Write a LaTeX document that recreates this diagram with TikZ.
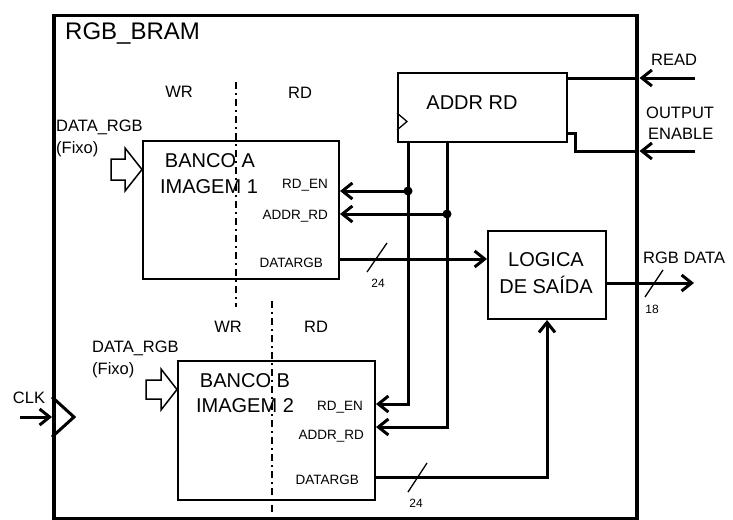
\documentclass[tikz,border=0pt]{standalone}
\usepackage{fontspec}
\setmainfont{Liberation Sans}
\usetikzlibrary{arrows.meta}
\begin{document}
\begin{tikzpicture}[x=1pt,y=-1pt,
  blk/.style={draw,line width=2pt,inner sep=0pt,anchor=north west},
  sig/.style={line width=3pt},
  tipd/.style={-{Straight Barb[length=10pt,width=16pt,line width=3pt]}},
  sl/.style={line width=1.3pt},
  dashdot/.style={line width=1.5pt,dash pattern=on 7pt off 4pt on 2pt off 4pt},
  hol/.style={line width=1.5pt,fill=white},
  big/.style={font=\fontsize{20}{20}\selectfont},
  med/.style={font=\fontsize{16.5}{16.5}\selectfont},
  sma/.style={font=\fontsize{13.5}{13.5}\selectfont},
  tin/.style={font=\fontsize{12}{12}\selectfont},
  lab/.style={inner sep=0pt}]
\useasboundingbox (0,0) rectangle (733,519);
\fill[white] (0,0) rectangle (733,519);

% outer box
\node[draw,line width=3.5pt,inner sep=0pt,anchor=north west,minimum width=583pt,minimum height=503pt] (outer) at (52,14) {};
\node[lab,anchor=west,font=\fontsize{24}{24}\selectfont] (title) at (65,34) {RGB\_BRAM};

% blocks
\node[blk,minimum width=196pt,minimum height=138pt] (bankA) at (142,140) {};
\node[blk,minimum width=197pt,minimum height=139pt] (bankB) at (177,360) {};
\node[blk,minimum width=169pt,minimum height=69pt] (addr) at (397,72) {};
\node[blk,minimum width=118pt,minimum height=88pt] (logic) at (487,230) {};

% dash-dot separators
\coordinate (sepA1) at (236,82);
\coordinate (sepA2) at (236,307);
\coordinate (sepB1) at (272,301);
\coordinate (sepB2) at (272,515);
\draw[dashdot] (sepA1) -- (sepA2);
\draw[dashdot] (sepB1) -- (sepB2);

% block texts
\node[lab,big] (tA1) at (210,161) {BANCO A};
\node[lab,big] (tA2) at (209,187) {IMAGEM 1};
\node[lab,big] (tB1) at (245,381) {BANCO B};
\node[lab,big] (tB2) at (245,406) {IMAGEM 2};
\node[lab,big] (tAddr) at (472,103) {ADDR RD};
\node[lab,big] (tL1) at (546,259.5) {LOGICA};
\node[lab,big] (tL2) at (546,285) {DE SAÍDA};

\node[lab,sma,anchor=east] (aEn) at (328,185) {RD\_EN};
\node[lab,sma,anchor=east] (aAd) at (328,216) {ADDR\_RD};
\node[lab,sma,anchor=east] (aDa) at (323,263) {DATARGB};
\node[lab,sma,anchor=east] (bEn) at (363,407) {RD\_EN};
\node[lab,sma,anchor=east] (bAd) at (364,436) {ADDR\_RD};
\node[lab,sma,anchor=east] (bDa) at (359,480) {DATARGB};

\node[lab,med] (wrA) at (179,92) {WR};
\node[lab,med] (rdA) at (300,93) {RD};
\node[lab,med] (wrB) at (228,327) {WR};
\node[lab,med] (rdB) at (316,327) {RD};

\node[lab,med,anchor=west] (dA1) at (56,127.5) {DATA\_RGB};
\node[lab,med,anchor=west] (dA2) at (56,149) {(Fixo)};
\node[lab,med,anchor=west] (dB1) at (92,348) {DATA\_RGB};
\node[lab,med,anchor=west] (dB2) at (92,370) {(Fixo)};

% hollow input arrows
\draw[hol,line join=miter] (111,159) -- (125,159) -- (125,148) -- (bankA.west |- 0,169.5) -- (125,191) -- (125,180) -- (111,180) -- cycle;
\draw[hol,line join=miter] (146,380) -- (161,380) -- (161,369) -- (bankB.west |- 0,389.5) -- (161,410) -- (161,399) -- (146,399) -- cycle;

% ADDR RD clock
\coordinate (ck1) at (397,113);
\coordinate (ck2) at (407,121.5);
\coordinate (ck3) at (397,130);
\draw[line width=1.3pt] (ck1) -- (ck2) -- (ck3);

% external inputs
\node[lab,med] (read) at (674,60) {READ};
\node[lab,med,anchor=west] (oe1) at (646,113) {OUTPUT};
\node[lab,med,anchor=west] (oe2) at (648,134) {ENABLE};
\coordinate (rdIn) at (695,78);
\coordinate (rdTip) at (outer.east |- rdIn);
\coordinate (oeIn) at (695,151);
\coordinate (oeTip) at (outer.east |- oeIn);
\draw[sig] (addr.east |- rdIn) -- (rdTip);
\draw[sig,tipd] (rdIn) -- ([xshift=1pt]rdTip);
\draw[sig] (addr.east |- 0,133) -- (575,133) |- (oeTip);
\draw[sig,tipd] (oeIn) -- ([xshift=1pt]oeTip);

% address/enable buses
\coordinate (d1) at (408,191);
\coordinate (d2) at (447,214);
\draw[sig,tipd,line join=miter] (d1 |- addr.south) |- (bankB.east |- 0,404);
\draw[sig,tipd,line join=miter] (d2 |- addr.south) |- (bankB.east |- 0,427);
\draw[sig,tipd] (d1) -- (bankA.east |- d1);
\draw[sig,tipd] (d2) -- (bankA.east |- d2);
\fill (d1) circle (4.5);
\fill (d2) circle (4.5);

% data buses
\coordinate (daA) at (bankA.east |- 0,259);
\draw[sig,tipd] (daA) -- (logic.west |- daA);
\draw[sl] (367,272) -- (387,243);
\node[lab,tin] (n24a) at (378,283) {24};

\coordinate (daB) at (bankB.east |- 0,477);
\draw[sig,tipd,line join=miter] (daB) -| (logic.south);
\draw[sl] (408,492) -- (427,463);
\node[lab,tin] (n24b) at (416,503) {24};

% output
\coordinate (outEnd) at (694,283);
\draw[sig,tipd] (logic.east |- outEnd) -- (outEnd);
\draw[sl] (645,297) -- (663,270);
\node[lab,tin] (n18) at (652,309) {18};
\node[lab,med,anchor=west] (rgbd) at (643,258) {RGB DATA};

% CLK
\node[lab,med] (clk) at (29,398) {CLK};
\coordinate (clkIn) at (20,417);
\draw[sig,tipd] (clkIn) -- (outer.west |- clkIn);
\draw[line width=3pt,line join=miter] (outer.west |- 0,397) -- (74,417) -- (outer.west |- 0,437);
\end{tikzpicture}
\end{document}
